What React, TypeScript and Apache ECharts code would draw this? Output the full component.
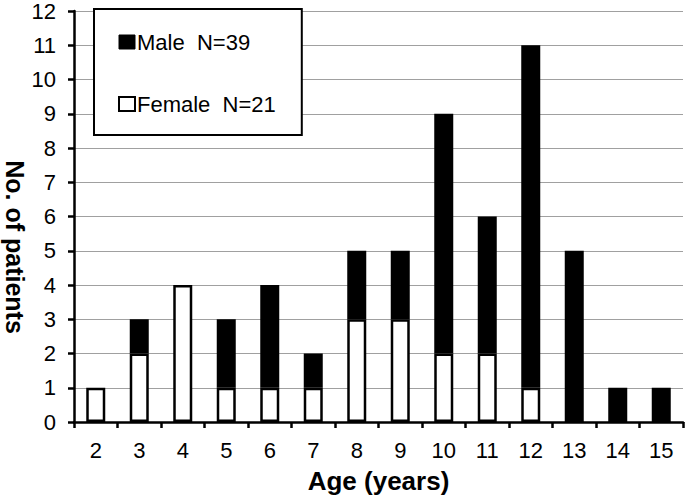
import React, { useEffect, useRef } from "react";
import * as echarts from "echarts";

const ages = ["2", "3", "4", "5", "6", "7", "8", "9", "10", "11", "12", "13", "14", "15"];
const female = [1, 2, 4, 1, 1, 1, 3, 3, 2, 2, 1, 0, 0, 0];
const male = [0, 1, 0, 2, 3, 1, 2, 2, 7, 4, 10, 5, 1, 1];
const yTicks = { min: 0, max: 12, interval: 1 };
const FONT = "'Liberation Sans', Arial, Helvetica, sans-serif";

const sum = (a: number[]) => a.reduce((s, v) => s + v, 0);
// zero-height segments are left out so that their borders do not draw a stray line
const nonZero = (a: number[]) => a.map((v) => (v === 0 ? null : v));

export default function App() {
  const ref = useRef<HTMLDivElement>(null);
  useEffect(() => {
    if (!ref.current) return;
    const chart = echarts.init(ref.current, undefined, { renderer: "svg" });
    const totals: Record<string, number> = { Male: sum(male), Female: sum(female) };
    chart.setOption({
      animation: false,
      backgroundColor: "#ffffff",
      textStyle: { fontFamily: FONT, color: "#000" },
      grid: { left: 74, right: 2, top: 11, bottom: 79, containLabel: false },
      legend: {
        orient: "vertical",
        left: 94,
        top: 9,
        padding: [22, 26, 20, 24],
        borderColor: "#000",
        borderWidth: 2,
        backgroundColor: "#fff",
        itemWidth: 16,
        itemHeight: 14,
        itemGap: 40,
        icon: "rect",
        selectedMode: false,
        formatter: (name: string) => `${name}  N=${totals[name]}`,
        textStyle: { fontFamily: FONT, fontSize: 22, color: "#000", padding: [0, 0, 0, -3] },
        data: [
          { name: "Male", itemStyle: { color: "#000", borderColor: "#000", borderWidth: 1 } },
          { name: "Female", itemStyle: { color: "#fff", borderColor: "#000", borderWidth: 2 } },
        ],
      },
      xAxis: {
        type: "category",
        data: ages,
        name: "Age (years)",
        nameLocation: "middle",
        nameGap: 46,
        nameTextStyle: { fontFamily: FONT, fontSize: 26, fontWeight: "bold", color: "#000" },
        axisLine: { lineStyle: { color: "#000", width: 2.5 } },
        axisTick: { show: true, length: 6, lineStyle: { color: "#000", width: 2.5 } },
        axisLabel: { fontFamily: FONT, fontSize: 22, color: "#000", margin: 17 },
      },
      yAxis: {
        type: "value",
        min: yTicks.min,
        max: yTicks.max,
        interval: yTicks.interval,
        axisLine: { show: true, lineStyle: { color: "#000", width: 2.5 } },
        axisTick: { show: true, length: 6, lineStyle: { color: "#000", width: 2.5 } },
        axisLabel: { fontFamily: FONT, fontSize: 22, color: "#000", margin: 18 },
        splitLine: { show: true, lineStyle: { color: "#a0a0a0", width: 1 } },
      },
      graphic: [
        {
          type: "text",
          x: 15,
          y: 247,
          rotation: -Math.PI / 2,
          style: {
            text: "No. of patients",
            font: `bold 25px ${FONT}`,
            fill: "#000",
            align: "center",
            verticalAlign: "middle",
          },
        },
      ],
      series: [
        {
          name: "Female",
          type: "bar",
          stack: "total",
          data: nonZero(female),
          barWidth: 19,
          itemStyle: { color: "#fff", borderColor: "#000", borderWidth: 2.5 },
        },
        {
          name: "Male",
          type: "bar",
          stack: "total",
          data: nonZero(male),
          barWidth: 19,
          itemStyle: { color: "#000", borderColor: "#000", borderWidth: 2.5 },
        },
      ],
    });
    return () => chart.dispose();
  }, []);
  return (
    <div
      ref={ref}
      style={{ position: "fixed", left: 0, top: 0, width: 685, height: 501, background: "#fff" }}
    />
  );
}
